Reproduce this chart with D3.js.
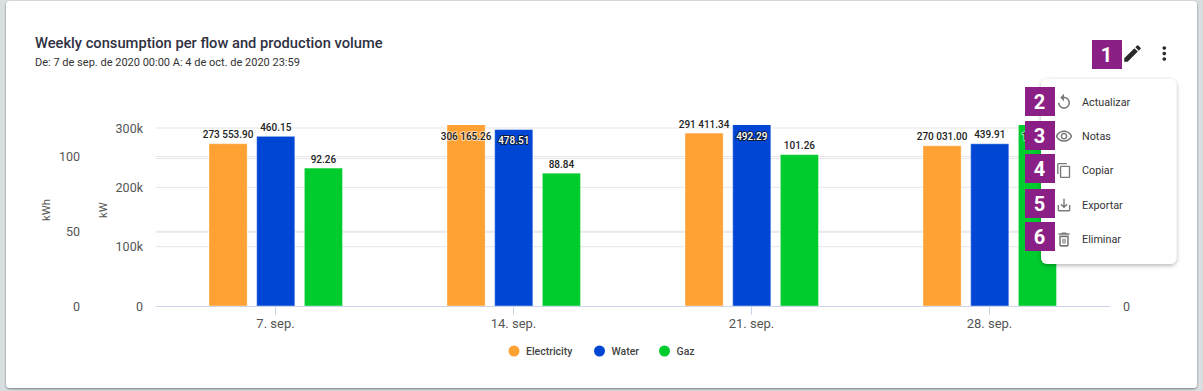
<!DOCTYPE html>
<html>
<head>
<meta charset="utf-8">
<script src="https://cdn.jsdelivr.net/npm/d3@7"></script>
<style>
html, body { margin: 0; padding: 0; background: #d9dee1; overflow: hidden; }
svg { display: block; }
text { font-family: Roboto, sans-serif; }
.tick-label { fill: #555; font-size: 12.5px; }
.tick-x { fill: #555; font-size: 13px; }
.bar-label { fill: #222; font-size: 10px; font-weight: 500; paint-order: stroke; stroke: #fff; stroke-opacity: 0.6; stroke-width: 2px; stroke-linejoin: round; }
.bar-label.inside { fill: #fff; stroke: #111; stroke-opacity: 0.8; }
.menu-text { fill: #333; font-size: 10.8px; }
.badge-text { fill: #fff; font-size: 20px; font-weight: 700; }
</style>
</head>
<body>
<svg id="chart" width="1203" height="391"></svg>
<script>
const weeks = ['7. sep.', '14. sep.', '21. sep.', '28. sep.'];
const series = ['Electricity', 'Water', 'Gaz'];
const electricity = [273553.90, 306165.26, 291411.34, 270031.00];
const water = [460.15, 478.51, 492.29, 439.91];
const gaz = [92.26, 88.84, 101.26, 121.40];
const labelsElectricity = ['273 553.90', '306 165.26', '291 411.34', '270 031.00'];
const labelsWater = ['460.15', '478.51', '492.29', '439.91'];
const labelsGaz = ['92.26', '88.84', '101.26', '121.40'];
const kwTicks = [0, 100000, 200000, 300000];
const kwhTicks = [0, 50, 100];
const waterTicks = [0, 200, 400];
const menuItems = ['Actualizar', 'Notas', 'Copiar', 'Exportar', 'Eliminar'];
const colors = ['#ffa133', '#0046d5', '#00cc2d'];

const svg = d3.select('#chart');

// Card
const defs = svg.append('defs');
const shadow = defs.append('filter').attr('id', 'card-shadow')
    .attr('x', '-5%').attr('y', '-5%').attr('width', '110%').attr('height', '110%');
shadow.append('feDropShadow').attr('dx', 0).attr('dy', 1).attr('stdDeviation', 1)
    .attr('flood-color', '#000').attr('flood-opacity', 0.45);
const menuShadow = defs.append('filter').attr('id', 'menu-shadow')
    .attr('x', '-10%').attr('y', '-10%').attr('width', '120%').attr('height', '120%');
menuShadow.append('feDropShadow').attr('dx', 0).attr('dy', 1.5).attr('stdDeviation', 2)
    .attr('flood-color', '#000').attr('flood-opacity', 0.3);
defs.append('clipPath').attr('id', 'plot-clip').append('rect')
    .attr('x', 156).attr('y', 125).attr('width', 954).attr('height', 181);

svg.append('rect').attr('x', 6).attr('y', 1).attr('width', 1191).attr('height', 387)
    .attr('rx', 4).attr('fill', '#fff').attr('filter', 'url(#card-shadow)');

svg.append('text').attr('x', 35).attr('y', 48)
    .attr('fill', '#2f3142').attr('font-size', 14.7).attr('font-weight', 500)
    .text('Weekly consumption per flow and production volume');
svg.append('text').attr('x', 35).attr('y', 66)
    .attr('fill', '#333').attr('font-size', 11)
    .text('De: 7 de sep. de 2020 00:00 A: 4 de oct. de 2020 23:59');

// Scales
const x0 = d3.scaleBand().domain(weeks).range([156.5, 1108.5]);
const x1 = d3.scaleBand().domain(series).range([52.5, 186]).paddingInner(0.2).paddingOuter(0);
const yKw = d3.scaleLinear().domain([0, 300000]).range([306, 128]);
const yKwh = d3.scaleLinear().domain([0, 100]).range([306, 156.5]);
const yWater = d3.scaleLinear().domain([0, 400]).range([306, 158.5]);
const yScales = [yKw, yWater, yKwh];
const values = [electricity, water, gaz];
const labels = [labelsElectricity, labelsWater, labelsGaz];

// Grid
const grid = svg.append('g');
[[kwTicks, yKw], [kwhTicks, yKwh], [waterTicks, yWater]].forEach(([ticks, y]) => {
    grid.selectAll(null).data(ticks.filter(d => d > 0)).enter().append('line')
        .attr('x1', 156).attr('x2', 1110)
        .attr('y1', d => y(d)).attr('y2', d => y(d))
        .attr('stroke', '#e6e6e6').attr('stroke-width', 1);
});

// Axes
const axisKw = svg.append('g').attr('transform', 'translate(146,0)')
    .call(d3.axisLeft(yKw).tickValues(kwTicks).tickSize(0).tickFormat(d => d ? d / 1000 + 'k' : '0'));
const axisKwh = svg.append('g').attr('transform', 'translate(83,0)')
    .call(d3.axisLeft(yKwh).tickValues(kwhTicks).tickSize(0));
// the other right-axis labels sit behind the open menu
const axisRight = svg.append('g').attr('transform', 'translate(1120,0)')
    .call(d3.axisRight(yWater).tickValues([0]).tickSize(0));
const axisX = svg.append('g').attr('transform', 'translate(0,306)')
    .call(d3.axisBottom(x0).tickSize(9).tickPadding(4));
[axisKw, axisKwh, axisRight].forEach(a => {
    a.selectAll('text').attr('class', 'tick-label').attr('fill', null).attr('font-size', null).attr('font-family', null);
    a.select('.domain').remove();
});
axisX.selectAll('text').attr('class', 'tick-x').attr('fill', null);
axisX.attr('font-size', null).attr('font-family', null);
axisX.select('.domain').remove();
axisX.selectAll('line').attr('stroke', '#ccd6eb');
svg.append('line').attr('x1', 156).attr('x2', 1110).attr('y1', 306.5).attr('y2', 306.5)
    .attr('stroke', '#ccd6eb');

// Axis titles
[['kWh', 50, 210], ['kW', 107, 210]].forEach(([t, xp, yp]) => {
    svg.append('text').attr('transform', `translate(${xp},${yp}) rotate(-90)`)
        .attr('text-anchor', 'middle').attr('fill', '#555').attr('font-size', 11.3).text(t);
});

// Bars
const bars = svg.append('g').attr('clip-path', 'url(#plot-clip)');
series.forEach((s, si) => {
    bars.selectAll(null).data(values[si]).enter().append('rect')
        .attr('x', (d, i) => x0(weeks[i]) + x1(s))
        .attr('width', x1.bandwidth())
        .attr('y', d => yScales[si](d))
        .attr('height', d => 306 - yScales[si](d))
        .attr('fill', colors[si])
        .attr('stroke', '#fff').attr('stroke-opacity', 0.4).attr('stroke-width', 1);
});

// Bar labels, pushed inside the bar when there is no room above it
series.forEach((s, si) => {
    svg.append('g').selectAll('text').data(values[si]).enter().append('text')
        .attr('class', d => (yScales[si](d) < 131 && s === 'Water') ? 'bar-label inside' : 'bar-label')
        .attr('text-anchor', 'middle')
        .attr('x', (d, i) => x0(weeks[i]) + x1(s) + x1.bandwidth() / 2)
        .attr('y', d => {
            const top = yScales[si](d);
            return top < 131 ? Math.max(top, 125) + 14.5 : top - 5.5;
        })
        .text((d, i) => labels[si][i]);
});

// Legend
const legendX = [514, 599.5, 664.5];
const legend = svg.append('g');
series.forEach((s, i) => {
    legend.append('circle').attr('cx', legendX[i]).attr('cy', 351).attr('r', 5.5).attr('fill', colors[i]);
    legend.append('text').attr('x', legendX[i] + 12).attr('y', 355)
        .attr('fill', '#444').attr('font-size', 10.5).attr('font-weight', 500).text(s);
});

// Top right icons
const iconPaths = {
    edit: 'M3 17.25V21h3.75L17.81 9.94l-3.75-3.75L3 17.25zM20.71 7.04a1 1 0 0 0 0-1.41l-2.34-2.34a1 1 0 0 0-1.41 0l-1.83 1.83 3.75 3.75 1.83-1.83z',
    more: 'M12 8c1.1 0 2-.9 2-2s-.9-2-2-2-2 .9-2 2 .9 2 2 2zm0 2c-1.1 0-2 .9-2 2s.9 2 2 2 2-.9 2-2-.9-2-2-2zm0 6c-1.1 0-2 .9-2 2s.9 2 2 2 2-.9 2-2-.9-2-2-2z',
    replay: 'M12 5V1L7 6l5 5V7c3.31 0 6 2.69 6 6s-2.69 6-6 6-6-2.69-6-6H4c0 4.42 3.58 8 8 8s8-3.58 8-8-3.58-8-8-8z',
    eye: 'M12 6c3.79 0 7.17 2.13 8.82 5.5C19.17 14.87 15.79 17 12 17s-7.17-2.13-8.82-5.5C4.83 8.13 8.21 6 12 6m0-2C7 4 2.73 7.11 1 11.5 2.73 15.89 7 19 12 19s9.27-3.11 11-7.5C21.27 7.11 17 4 12 4zm0 5c1.38 0 2.5 1.12 2.5 2.5S13.38 14 12 14s-2.5-1.12-2.5-2.5S10.62 9 12 9m0-2c-2.48 0-4.5 2.02-4.5 4.5S9.52 16 12 16s4.5-2.02 4.5-4.5S14.48 7 12 7z',
    copy: 'M16 1H4c-1.1 0-2 .9-2 2v14h2V3h12V1zm3 4H8c-1.1 0-2 .9-2 2v14c0 1.1.9 2 2 2h11c1.1 0 2-.9 2-2V7c0-1.1-.9-2-2-2zm0 16H8V7h11v14z',
    save: 'M19 12v7H5v-7H3v7c0 1.1.9 2 2 2h14c1.1 0 2-.9 2-2v-7h-2zm-6 .67l2.59-2.58L17 11.5l-5 5-5-5 1.41-1.41L11 12.67V3h2z',
    trash: 'M6 19c0 1.1.9 2 2 2h8c1.1 0 2-.9 2-2V7H6v12zM8 9h8v10H8V9zm7.5-5l-1-1h-5l-1 1H5v2h14V4zM10 11h1.5v6H10zM12.5 11H14v6h-1.5z'
};
function icon(name, cx, cy, size, fill) {
    svg.append('path').attr('d', iconPaths[name])
        .attr('transform', `translate(${cx - size / 2},${cy - size / 2}) scale(${size / 24})`)
        .attr('fill', fill);
}
icon('edit', 1132.5, 53.5, 22, '#2a2a2a');
icon('more', 1164.3, 53.5, 22, '#2a2a2a');

// Menu
svg.append('rect').attr('x', 1041).attr('y', 79).attr('width', 135.5).attr('height', 185)
    .attr('rx', 6).attr('fill', '#fff').attr('filter', 'url(#menu-shadow)');
const menuY = [102, 136, 170, 205, 239];
const menuIcons = ['replay', 'eye', 'copy', 'save', 'trash'];
const menuIconSize = [18, 18, 16.5, 17, 19];
const menuIconY = [102, 136.5, 170.5, 205, 239.5];
menuItems.forEach((t, i) => {
    icon(menuIcons[i], 1064, menuIconY[i], menuIconSize[i], '#7a7a7a');
    svg.append('text').attr('class', 'menu-text').attr('x', 1082).attr('y', menuY[i] + 4).text(t);
});

// Number badges
const badgeX = [1092, 1025, 1025, 1025, 1025, 1025];
const badgeY = [40, 87, 121, 154, 189, 222];
badgeX.forEach((bx, i) => {
    svg.append('rect').attr('x', bx).attr('y', badgeY[i]).attr('width', 30).attr('height', 29).attr('fill', '#8a1f85');
    svg.append('text').attr('class', 'badge-text').attr('text-anchor', 'middle')
        .attr('x', bx + 14.5).attr('y', badgeY[i] + 21.5).text(i + 1);
});
</script>
</body>
</html>
